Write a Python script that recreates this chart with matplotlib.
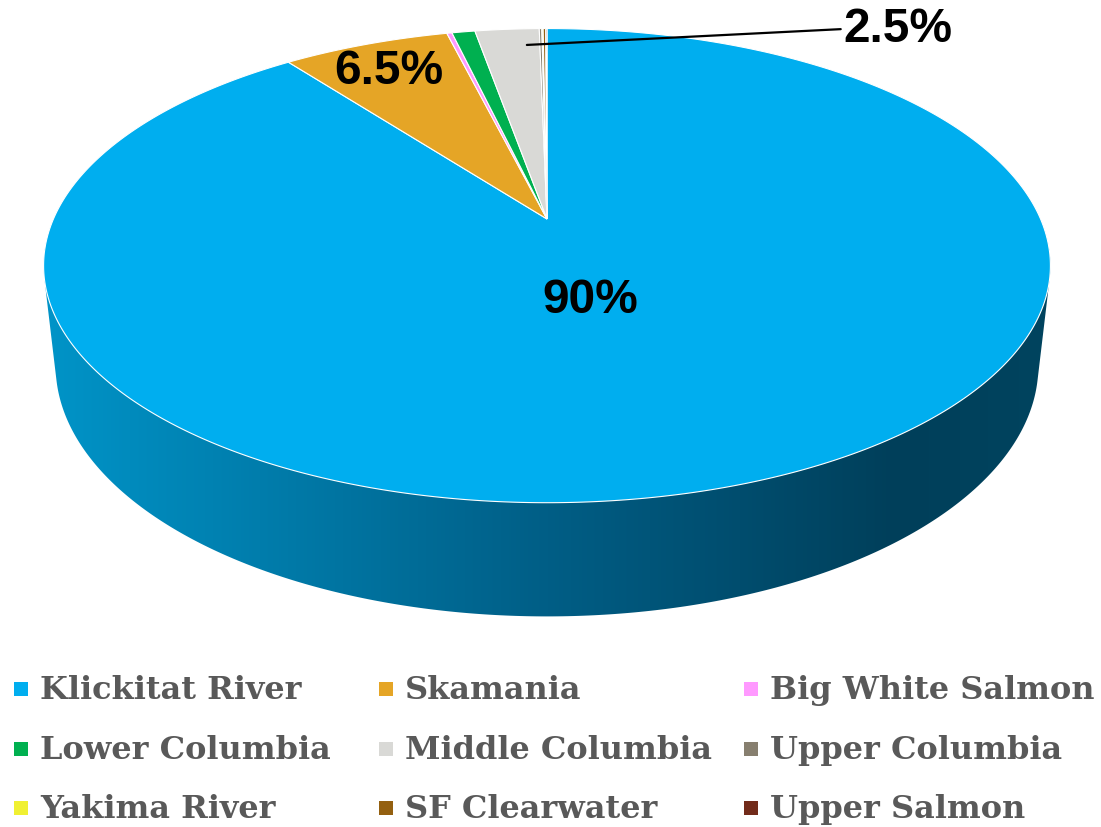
import matplotlib.pyplot as plt
import numpy as np
from matplotlib.patches import Polygon, Rectangle
from matplotlib.colors import LinearSegmentedColormap

# Data
regions = ['Klickitat River', 'Skamania', 'Big White Salmon',
           'Lower Columbia', 'Middle Columbia', 'Upper Columbia',
           'Yakima River', 'SF Clearwater', 'Upper Salmon']
shares = [90.0, 6.5, 0.2, 0.9, 2.5, 0.1, 0.05, 0.1, 0.05]
colors = ['#00AEEF', '#E5A526', '#FF99FF', '#00B050', '#D9D9D6',
          '#877F6F', '#F0F032', '#946010', '#722B1A']
shown_labels = {'Klickitat River': '90%', 'Skamania': '6.5%',
                'Middle Columbia': '2.5%'}

# camera for the fake 3D pie (pixel space)
CX, CY = 547, 220
ELEV = np.radians(27.5)
DIST = 4.51
FOCAL = 2226
DEPTH = 0.23


def project(X, Y, Z):
    d = DIST + Y * np.cos(ELEV) - Z * np.sin(ELEV)
    sx = CX + FOCAL * X / d
    sy = CY - FOCAL * (Z * np.cos(ELEV) + Y * np.sin(ELEV)) / d
    return sx, sy


def rim(theta, r=1.0, z=0.0):
    # theta in degrees, clockwise from the far point
    t = np.radians(theta)
    return project(r * np.sin(t), r * np.cos(t), z)


def hull(pts):
    pts = sorted(set(map(tuple, pts)))
    def cross(o, a, b):
        return (a[0]-o[0])*(b[1]-o[1]) - (a[1]-o[1])*(b[0]-o[0])
    lower, upper = [], []
    for p in pts:
        while len(lower) >= 2 and cross(lower[-2], lower[-1], p) <= 0:
            lower.pop()
        lower.append(p)
    for p in reversed(pts):
        while len(upper) >= 2 and cross(upper[-2], upper[-1], p) <= 0:
            upper.pop()
        upper.append(p)
    return np.array(lower[:-1] + upper[:-1])


fig = plt.figure(figsize=(11.01, 8.28), dpi=100)
ax = fig.add_axes([0, 0, 1, 1])

# side wall (hull of top and bottom rims), shaded left->right
angs = np.linspace(0, 360, 721)
top = np.column_stack(rim(angs))
bot = np.column_stack(rim(angs, z=-DEPTH))
side = Polygon(hull(np.vstack([top, bot])), closed=True,
               facecolor='none', edgecolor='none')
ax.add_patch(side)
wall_cmap = LinearSegmentedColormap.from_list(
    'wall', [(0, '#0094C8'), (0.5, '#005E86'), (0.85, '#003F5A'),
             (1.0, '#00445F')])
grad = np.linspace(0, 1, 512).reshape(1, -1)
img = ax.imshow(grad, cmap=wall_cmap, aspect='auto',
                extent=(top[:, 0].min(), top[:, 0].max(), 640, 250),
                zorder=1)
img.set_clip_path(side)

# top face slices
total = sum(shares)
start = 0.0
mids = {}
for name, val, col in zip(regions, shares, colors):
    span = val / total * 360
    a = np.linspace(start, start + span, max(3, int(span / 0.25)))
    xs, ys = rim(a)
    pts = np.vstack([[CX, CY], np.column_stack([xs, ys])])
    ax.add_patch(Polygon(pts, closed=True, facecolor=col,
                         edgecolor='white', linewidth=0.8, zorder=2))
    mids[name] = start + span / 2
    start += span

# data labels
lab_font = dict(family='Liberation Sans', fontweight='bold', fontsize=34.5,
                color='black', ha='center', va='center', zorder=5)
ax.text(590, 301, shown_labels['Klickitat River'], **lab_font)
ax.text(389, 72, shown_labels['Skamania'], **lab_font)
ax.annotate(shown_labels['Middle Columbia'],
            xy=rim(mids['Middle Columbia'] + 2.5, r=0.9),
            xytext=(898, 30), textcoords='data',
            arrowprops=dict(arrowstyle='-', color='black', lw=1.6,
                            shrinkA=0, shrinkB=0,
                            relpos=(0.0, 0.5)),
            **lab_font)

# legend (3 columns, row-major)
col_x = [14, 379, 744]
row_y = [690, 750, 809]
for i, (name, col) in enumerate(zip(regions, colors)):
    x = col_x[i % 3]
    y = row_y[i // 3]
    ax.add_patch(Rectangle((x, y - 7), 14, 14, facecolor=col,
                           edgecolor='none', zorder=5))
    ax.text(x + 26, y + 1, name, family='DejaVu Serif', fontweight='bold',
            fontsize=23, color='#595959', va='center', ha='left')

ax.set_xlim(0, 1101)
ax.set_ylim(828, 0)
ax.axis('off')

plt.savefig('out.png', dpi=100)
